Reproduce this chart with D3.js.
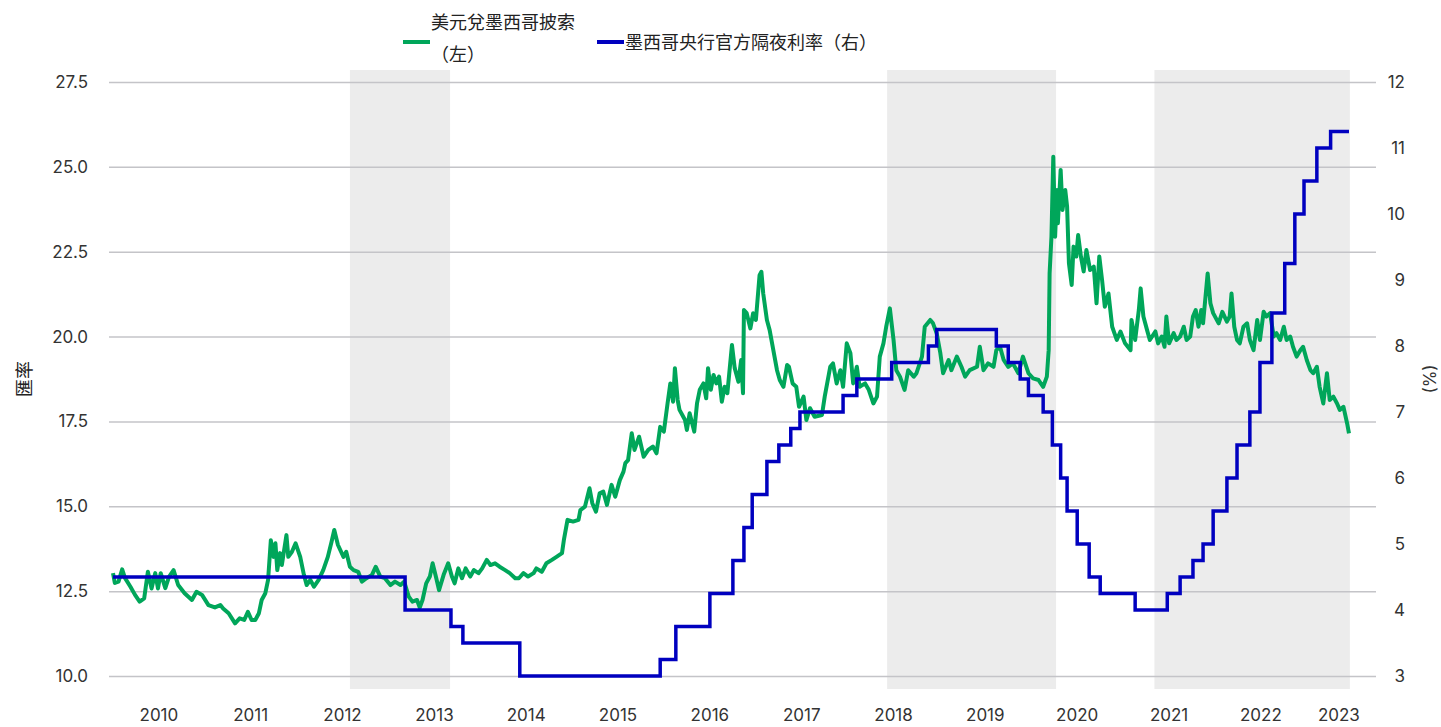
<!DOCTYPE html>
<html>
<head>
<meta charset="utf-8">
<script src="https://cdn.jsdelivr.net/npm/d3@7"></script>
<style>
  body { margin: 0; background: #fff; }
  text { font-family: Inter, "Noto Sans", sans-serif; fill: #333; }
  .cjk { font-family: "Noto Sans CJK TC", "Noto Sans CJK SC", sans-serif; fill: #222; }
</style>
</head>
<body>
<div id="chart"></div>
<script>
// USD/MXN exchange rate (left axis), decimal years
const fxYears = [
  2010.00, 2010.02, 2010.06, 2010.10, 2010.13, 2010.19, 2010.24, 2010.29, 2010.34, 2010.38,
  2010.42, 2010.46, 2010.49, 2010.52, 2010.57, 2010.61, 2010.66, 2010.71, 2010.78, 2010.86,
  2010.91, 2010.97, 2011.04, 2011.11, 2011.17, 2011.20, 2011.26, 2011.33, 2011.38, 2011.43,
  2011.47, 2011.51, 2011.55, 2011.59, 2011.62, 2011.66, 2011.69, 2011.72, 2011.75, 2011.77,
  2011.79, 2011.82, 2011.84, 2011.89, 2011.91, 2011.95, 2011.99, 2012.04, 2012.08, 2012.11,
  2012.15, 2012.19, 2012.24, 2012.29, 2012.34, 2012.38, 2012.41, 2012.45, 2012.51, 2012.54,
  2012.58, 2012.62, 2012.67, 2012.71, 2012.76, 2012.82, 2012.86, 2012.91, 2012.96, 2013.02,
  2013.07, 2013.13, 2013.17, 2013.22, 2013.26, 2013.31, 2013.34, 2013.37, 2013.41, 2013.45,
  2013.48, 2013.52, 2013.55, 2013.60, 2013.65, 2013.69, 2013.72, 2013.76, 2013.80, 2013.84,
  2013.89, 2013.93, 2013.98, 2014.02, 2014.07, 2014.11, 2014.16, 2014.21, 2014.27, 2014.32,
  2014.38, 2014.42, 2014.47, 2014.52, 2014.58, 2014.61, 2014.67, 2014.72, 2014.78, 2014.83,
  2014.89, 2014.91, 2014.95, 2015.01, 2015.07, 2015.09, 2015.14, 2015.19, 2015.22, 2015.26,
  2015.30, 2015.34, 2015.38, 2015.43, 2015.47, 2015.52, 2015.56, 2015.58, 2015.61, 2015.65,
  2015.68, 2015.73, 2015.78, 2015.83, 2015.88, 2015.92, 2015.96, 2016.00, 2016.04, 2016.07,
  2016.10, 2016.12, 2016.15, 2016.17, 2016.23, 2016.25, 2016.28, 2016.33, 2016.36, 2016.39,
  2016.43, 2016.46, 2016.48, 2016.51, 2016.54, 2016.57, 2016.60, 2016.63, 2016.66, 2016.69,
  2016.74, 2016.77, 2016.81, 2016.84, 2016.86, 2016.87, 2016.90, 2016.94, 2016.97, 2017.00,
  2017.04, 2017.06, 2017.08, 2017.12, 2017.15, 2017.19, 2017.23, 2017.26, 2017.30, 2017.34,
  2017.36, 2017.40, 2017.44, 2017.47, 2017.52, 2017.55, 2017.59, 2017.64, 2017.72, 2017.75,
  2017.81, 2017.84, 2017.88, 2017.92, 2017.95, 2017.99, 2018.03, 2018.06, 2018.10, 2018.13,
  2018.19, 2018.23, 2018.28, 2018.32, 2018.35, 2018.39, 2018.42, 2018.46, 2018.50, 2018.53,
  2018.57, 2018.62, 2018.66, 2018.72, 2018.75, 2018.81, 2018.84, 2018.90, 2018.93, 2018.97,
  2019.01, 2019.04, 2019.10, 2019.13, 2019.19, 2019.24, 2019.28, 2019.33, 2019.41, 2019.44,
  2019.48, 2019.53, 2019.59, 2019.62, 2019.66, 2019.70, 2019.75, 2019.80, 2019.86, 2019.91,
  2019.97, 2020.02, 2020.08, 2020.13, 2020.17, 2020.19, 2020.20, 2020.22, 2020.24, 2020.26,
  2020.28, 2020.29, 2020.32, 2020.34, 2020.37, 2020.39, 2020.41, 2020.44, 2020.46, 2020.49,
  2020.51, 2020.54, 2020.57, 2020.60, 2020.64, 2020.68, 2020.71, 2020.74, 2020.77, 2020.80,
  2020.84, 2020.88, 2020.93, 2020.97, 2021.02, 2021.08, 2021.09, 2021.13, 2021.17, 2021.19,
  2021.22, 2021.26, 2021.29, 2021.35, 2021.38, 2021.42, 2021.45, 2021.47, 2021.50, 2021.55,
  2021.58, 2021.62, 2021.66, 2021.69, 2021.73, 2021.76, 2021.79, 2021.82, 2021.85, 2021.87,
  2021.92, 2021.95, 2021.98, 2022.04, 2022.08, 2022.13, 2022.16, 2022.18, 2022.21, 2022.24,
  2022.27, 2022.31, 2022.35, 2022.38, 2022.42, 2022.46, 2022.49, 2022.53, 2022.56, 2022.60,
  2022.64, 2022.67, 2022.71, 2022.75, 2022.78, 2022.82, 2022.85, 2022.89, 2022.93, 2022.96,
  2023.00, 2023.04, 2023.07, 2023.11, 2023.14, 2023.18, 2023.22, 2023.25, 2023.29, 2023.33,
  2023.36, 2023.40, 2023.44, 2023.46
];
const fxRates = [
  13.03, 12.74, 12.78, 13.14, 12.89, 12.63, 12.39, 12.19, 12.29, 13.07,
  12.58, 13.03, 12.58, 13.03, 12.59, 12.92, 13.12, 12.68, 12.44, 12.24,
  12.48, 12.39, 12.09, 12.02, 12.09, 11.99, 11.85, 11.55, 11.70, 11.65,
  11.89, 11.65, 11.65, 11.85, 12.24, 12.44, 12.83, 14.00, 13.51, 13.91,
  13.12, 13.62, 13.27, 14.15, 13.51, 13.66, 13.91, 13.51, 12.98, 12.68,
  12.83, 12.63, 12.83, 13.12, 13.51, 13.95, 14.30, 13.86, 13.51, 13.66,
  13.22, 13.12, 13.07, 12.78, 12.88, 12.98, 13.22, 12.93, 12.88, 12.68,
  12.78, 12.68, 12.78, 12.34, 12.19, 12.24, 12.02, 12.24, 12.73, 12.93,
  13.32, 12.88, 12.53, 12.98, 13.32, 12.93, 12.73, 13.17, 12.88, 13.17,
  12.93, 13.12, 13.03, 13.17, 13.42, 13.27, 13.32, 13.22, 13.12, 13.03,
  12.88, 12.88, 13.03, 12.93, 13.03, 13.17, 13.07, 13.32, 13.42, 13.51,
  13.62, 14.00, 14.60, 14.55, 14.60, 14.89, 14.99, 15.53, 15.09, 14.84,
  15.38, 15.43, 15.04, 15.63, 15.28, 15.77, 16.02, 16.27, 16.36, 17.15,
  16.66, 17.05, 16.46, 16.66, 16.76, 16.56, 17.34, 17.20, 18.03, 18.62,
  18.08, 19.07, 18.13, 17.84, 17.54, 17.25, 17.74, 17.20, 18.03, 18.43,
  18.62, 18.18, 19.07, 18.43, 18.87, 18.62, 18.82, 18.08, 18.52, 18.33,
  19.75, 19.07, 18.67, 19.31, 18.33, 20.78, 20.69, 20.24, 20.69, 20.49,
  21.81, 21.91, 21.27, 20.49, 20.19, 19.60, 19.01, 18.72, 18.52, 19.16,
  19.11, 18.62, 18.52, 17.93, 18.23, 17.54, 17.89, 17.64, 17.69, 18.23,
  19.11, 19.21, 18.62, 19.01, 18.52, 19.80, 19.51, 18.62, 19.11, 18.52,
  18.62, 18.43, 18.03, 18.23, 19.41, 19.80, 20.29, 20.83, 19.90, 19.01,
  18.82, 18.43, 19.01, 18.82, 18.92, 19.41, 20.29, 20.49, 20.39, 20.10,
  19.51, 18.92, 19.31, 19.01, 19.41, 19.11, 18.82, 19.01, 19.11, 19.70,
  19.01, 19.21, 19.11, 19.60, 19.70, 19.31, 19.11, 19.21, 18.92, 19.41,
  18.92, 18.77, 18.72, 18.52, 18.82, 19.60, 21.86, 22.94, 25.30, 22.94,
  24.32, 23.34, 24.91, 23.73, 24.32, 23.83, 22.16, 21.52, 22.65, 22.36,
  22.99, 22.36, 21.92, 22.55, 21.96, 22.06, 20.98, 22.36, 21.67, 20.88,
  21.27, 20.29, 19.90, 20.15, 19.80, 19.60, 20.49, 19.90, 20.78, 21.42,
  20.59, 20.19, 19.90, 20.15, 19.80, 20.00, 19.70, 20.59, 19.80, 20.10,
  19.90, 20.00, 20.29, 19.90, 20.00, 20.59, 20.78, 20.29, 20.78, 20.39,
  21.86, 20.98, 20.69, 20.39, 20.73, 20.44, 20.59, 21.27, 20.29, 19.90,
  19.80, 20.29, 20.39, 19.90, 19.60, 20.49, 19.90, 20.73, 20.59, 20.69,
  20.00, 20.10, 19.90, 20.29, 19.90, 20.00, 19.70, 19.41, 19.60, 19.70,
  19.31, 19.01, 18.92, 19.11, 18.52, 18.03, 18.92, 18.13, 18.23, 18.03,
  17.84, 17.93, 17.44, 17.15
];

// Banxico overnight rate (right axis): date of each change and new level
const policyYears = [
  2010.00, 2013.18, 2013.68, 2013.81, 2014.43, 2015.96, 2016.13, 2016.50, 2016.75, 2016.87,
  2016.96, 2017.12, 2017.25, 2017.38, 2017.48, 2017.95, 2018.10, 2018.48, 2018.88, 2018.97,
  2019.62, 2019.75, 2019.88, 2019.97, 2020.13, 2020.23, 2020.32, 2020.39, 2020.50, 2020.63,
  2020.75, 2021.13, 2021.48, 2021.62, 2021.76, 2021.87, 2021.98, 2022.13, 2022.24, 2022.38,
  2022.49, 2022.62, 2022.76, 2022.87, 2022.97, 2023.11, 2023.26, 2023.46
];
const policyRates = [
  4.50, 4.00, 3.75, 3.50, 3.00, 3.25, 3.75, 4.25, 4.75, 5.25,
  5.75, 6.25, 6.50, 6.75, 7.00, 7.25, 7.50, 7.75, 8.00, 8.25,
  8.00, 7.75, 7.50, 7.25, 7.00, 6.50, 6.00, 5.50, 5.00, 4.50,
  4.25, 4.00, 4.25, 4.50, 4.75, 5.00, 5.50, 6.00, 6.50, 7.00,
  7.75, 8.50, 9.25, 10.00, 10.50, 11.00, 11.25, 11.25
];

// grey shaded periods
const shadeStarts = [2012.58, 2018.43, 2021.34];
const shadeEnds = [2013.67, 2020.27, 2023.47];

const leftTicks = [10, 12.5, 15, 17.5, 20, 22.5, 25, 27.5];
const rightTicks = [3, 4, 5, 6, 7, 8, 9, 10, 11, 12];
const yearLabels = [2010, 2011, 2012, 2013, 2014, 2015, 2016, 2017, 2018, 2019, 2020, 2021, 2022, 2023];

const leftTitle = "匯率";
const rightTitle = "(%)";
const fxLabel = ["美元兌墨西哥披索", "（左）"];
const policyLabel = "墨西哥央行官方隔夜利率（右）";

function toDate(y) {
  const yr = Math.floor(y);
  const a = new Date(yr, 0, 1), b = new Date(yr + 1, 0, 1);
  return new Date(+a + (y - yr) * (b - a));
}

const width = 1441, height = 727;
const plot = { left: 113, right: 1371, top: 82, bottom: 676 };

const svg = d3.select("#chart").append("svg")
  .attr("width", width)
  .attr("height", height);

const x = d3.scaleTime()
  .domain([toDate(2010.0), toDate(2023.70)])
  .range([plot.left, plot.right]);

const yL = d3.scaleLinear().domain([10, 27.5]).range([plot.bottom, plot.top]);
const yR = d3.scaleLinear().domain([3, 12]).range([plot.bottom, plot.top]);

// Shaded periods
svg.append("g").selectAll("rect")
  .data(d3.zip(shadeStarts, shadeEnds))
  .enter().append("rect")
  .attr("x", d => x(toDate(d[0])))
  .attr("width", d => x(toDate(d[1])) - x(toDate(d[0])))
  .attr("y", 70)
  .attr("height", 619)
  .attr("fill", "#ececec");

// Gridlines + left axis
const gL = svg.append("g")
  .attr("transform", `translate(${plot.left - 4},0)`)
  .call(d3.axisLeft(yL).tickValues(leftTicks).tickFormat(d3.format(".1f"))
    .tickSize(-(plot.right - plot.left + 9)).tickPadding(21));
gL.select(".domain").remove();
gL.selectAll(".tick line").attr("stroke", "#c4c4c8").attr("stroke-width", 1.5);
gL.selectAll(".tick text").style("font-size", "17px").attr("fill", "#333");

// Right axis labels
const gR = svg.append("g")
  .attr("transform", `translate(1405,0)`)
  .call(d3.axisLeft(yR).tickValues(rightTicks).tickFormat(d3.format("d"))
    .tickSize(0).tickPadding(0));
gR.select(".domain").remove();
gR.selectAll(".tick text").style("font-size", "17px").attr("fill", "#333");

// Year labels centred on each (clipped) year
svg.append("g").selectAll("text")
  .data(yearLabels)
  .enter().append("text")
  .attr("x", d => (x(toDate(d)) + Math.min(x(toDate(d + 1)), plot.right)) / 2)
  .attr("y", 721)
  .attr("text-anchor", "middle")
  .style("font-size", "17px")
  .text(d => d);

// Axis titles
svg.append("text")
  .attr("class", "cjk")
  .attr("transform", `translate(31,${(plot.top + plot.bottom) / 2}) rotate(-90)`)
  .attr("text-anchor", "middle")
  .style("font-size", "18px")
  .text(leftTitle);

svg.append("text")
  .attr("transform", `translate(1436,${(plot.top + plot.bottom) / 2}) rotate(-90)`)
  .attr("text-anchor", "middle")
  .style("font-size", "17px")
  .text(rightTitle);

// Lines
const fxData = fxYears.map((t, i) => ({ date: toDate(t), value: fxRates[i] }));
const policyData = policyYears.map((t, i) => ({ date: toDate(t), value: policyRates[i] }));

svg.append("path")
  .datum(fxData)
  .attr("fill", "none")
  .attr("stroke", "#00a65a")
  .attr("stroke-width", 4)
  .attr("stroke-linejoin", "round")
  .attr("d", d3.line().x(d => x(d.date)).y(d => yL(d.value)));

svg.append("path")
  .datum(policyData)
  .attr("fill", "none")
  .attr("stroke", "#0000bf")
  .attr("stroke-width", 3.5)
  .attr("d", d3.line().curve(d3.curveStepAfter).x(d => x(d.date)).y(d => yR(d.value)));

// Legend
const legend = svg.append("g");
legend.append("line")
  .attr("x1", 403).attr("x2", 430).attr("y1", 42).attr("y2", 42)
  .attr("stroke", "#00a65a").attr("stroke-width", 4);
legend.selectAll("text.fx")
  .data(fxLabel)
  .enter().append("text")
  .attr("class", "cjk fx")
  .attr("x", 431)
  .attr("y", (d, i) => 29 + i * 32)
  .style("font-size", "18px")
  .text(d => d);
legend.append("line")
  .attr("x1", 597).attr("x2", 624).attr("y1", 42).attr("y2", 42)
  .attr("stroke", "#0000bf").attr("stroke-width", 4);
legend.append("text")
  .attr("class", "cjk")
  .attr("x", 625)
  .attr("y", 49)
  .style("font-size", "18px")
  .text(policyLabel);
</script>
</body>
</html>
